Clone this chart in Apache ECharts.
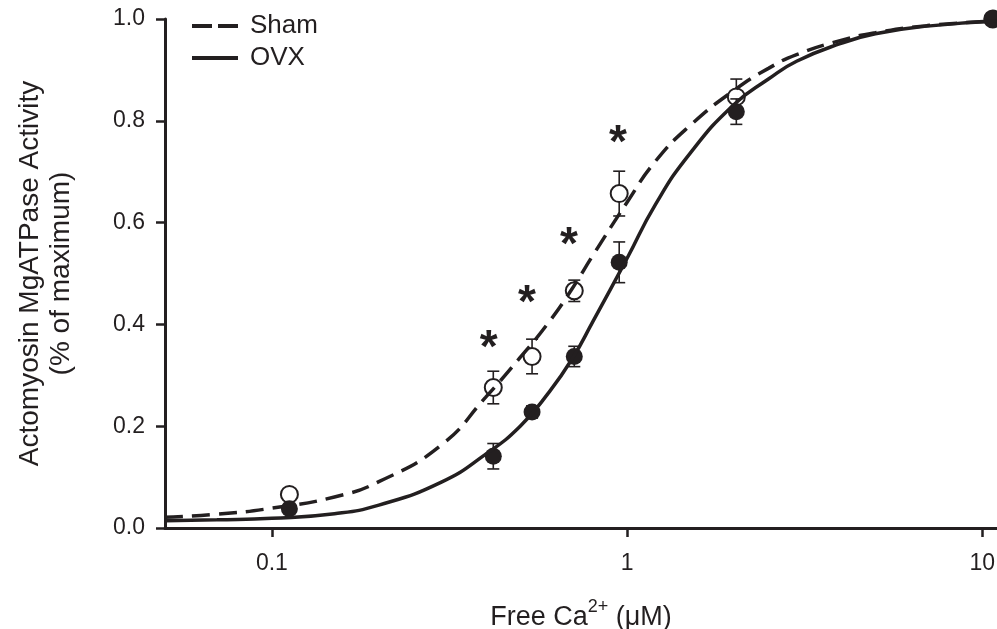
<!DOCTYPE html>
<html>
<head>
<meta charset="utf-8">
<script src="https://cdn.jsdelivr.net/npm/echarts@6/dist/echarts.min.js"></script>
<style>
  html, body { margin: 0; padding: 0; background: #fff; }
  #chart { width: 997px; height: 629px; }
</style>
</head>
<body>
<div id="chart"></div>
<script>
// measured points (free Ca2+, µM)
const concX = [0.112, 0.42, 0.54, 0.71, 0.95, 2.03, 10.7]
const shamY = [0.066, 0.276, 0.337, 0.466, 0.657, 0.847, 1.0]
const shamSe = [0, 0.032, 0.034, 0.021, 0.044, 0.035, 0]
const ovxY = [0.038, 0.141, 0.228, 0.337, 0.522, 0.818, 1.0]
const ovxSe = [0, 0.025, 0.012, 0.02, 0.04, 0.025, 0]

// fitted curves
const curveX = [0.05, 0.07, 0.1, 0.15, 0.2, 0.3, 0.4, 0.5, 0.6, 0.7, 0.8, 1.0, 1.2, 1.5, 2.0, 2.5, 3.0, 4.0, 5.0, 7.0, 11]
const shamCurve = [0.021, 0.027, 0.039, 0.061, 0.091, 0.163, 0.257, 0.335, 0.403, 0.47, 0.535, 0.64, 0.72, 0.79, 0.86, 0.903, 0.93, 0.958, 0.973, 0.987, 0.996]
const ovxCurve = [0.014, 0.016, 0.019, 0.028, 0.045, 0.09, 0.145, 0.20, 0.265, 0.332, 0.405, 0.53, 0.635, 0.735, 0.832, 0.882, 0.917, 0.952, 0.971, 0.986, 0.996]

// significance marks
const starX = [0.408, 0.522, 0.686, 0.943]
const starY = [0.373, 0.461, 0.575, 0.776]

const xTicks = [0.1, 1, 10]

const ink = '#231f20'
const font = '"Liberation Sans", Arial, Helvetica, sans-serif'

const chart = echarts.init(document.getElementById('chart'))

function errRender(params, api) {
  const x = api.value(0)
  const y = api.value(1)
  const e = api.value(2)
  if (!e) return null
  const top = api.coord([x, y + e])
  const bot = api.coord([x, y - e])
  const hw = 6
  const style = { stroke: ink, lineWidth: 1.6 }
  return {
    type: 'group',
    children: [
      { type: 'line', shape: { x1: top[0], y1: top[1], x2: bot[0], y2: bot[1] }, style },
      { type: 'line', shape: { x1: top[0] - hw, y1: top[1], x2: top[0] + hw, y2: top[1] }, style },
      { type: 'line', shape: { x1: bot[0] - hw, y1: bot[1], x2: bot[0] + hw, y2: bot[1] }, style },
    ],
  }
}

chart.setOption({
  animation: false,
  textStyle: { fontFamily: font, color: ink },
  grid: { left: 165, right: 0, top: 19, bottom: 101, containLabel: false, outerBoundsMode: 'none' },
  legend: {
    data: [
      { name: 'Sham', icon: 'path://M0,0H20V4H0Z M26,0H46V4H26Z' },
      { name: 'OVX', icon: 'path://M0,0H46V4H0Z' },
    ],
    orient: 'vertical',
    left: 192,
    top: 13,
    padding: 0,
    itemWidth: 46,
    itemHeight: 4,
    itemGap: 6,
    itemStyle: { color: ink },
    textStyle: { fontSize: 26, color: ink, fontFamily: font, lineHeight: 26, padding: [0, 0, 0, 7] },
  },
  xAxis: {
    type: 'log',
    logBase: 10,
    min: 0.05,
    max: 11,
    name: 'Free Ca{sup|2+} (μM)',
    nameLocation: 'middle',
    nameGap: 70,
    nameTextStyle: {
      fontSize: 27,
      color: ink,
      fontFamily: font,
      rich: { sup: { fontSize: 18, padding: [0, 0, 22, 0], color: ink, fontFamily: font } },
    },
    axisLine: { lineStyle: { color: ink, width: 3 } },
    axisTick: { customValues: xTicks, length: 9, lineStyle: { color: ink, width: 2.5 } },
    axisLabel: {
      customValues: xTicks,
      margin: 24,
      fontSize: 23,
      color: ink,
      formatter: (v) => String(v),
    },
    splitLine: { show: false },
    minorTick: { show: false },
  },
  yAxis: {
    type: 'value',
    min: 0,
    max: 1,
    interval: 0.2,
    name: 'Actomyosin MgATPase Activity\n(% of maximum)',
    nameLocation: 'middle',
    nameGap: 88,
    nameTextStyle: { fontSize: 28, color: ink, fontFamily: font, lineHeight: 31 },
    axisLine: { show: true, lineStyle: { color: ink, width: 3 } },
    axisTick: { show: true, length: 9, lineStyle: { color: ink, width: 2.5 } },
    axisLabel: { margin: 20, fontSize: 23, color: ink, formatter: (v) => v.toFixed(1) },
    splitLine: { show: false },
  },
  series: [
    {
      name: 'shamErr',
      type: 'custom',
      renderItem: errRender,
      encode: { x: 0, y: 1 },
      data: concX.map((x, i) => [x, shamY[i], shamSe[i]]),
      z: 2,
    },
    {
      name: 'shamPts',
      type: 'scatter',
      symbol: 'circle',
      symbolSize: 17,
      itemStyle: { color: '#fff', borderColor: ink, borderWidth: 2, opacity: 1 },
      data: concX.map((x, i) => [x, shamY[i]]),
      z: 3,
    },
    {
      name: 'ovxErr',
      type: 'custom',
      renderItem: errRender,
      encode: { x: 0, y: 1 },
      data: concX.map((x, i) => [x, ovxY[i], ovxSe[i]]),
      z: 4,
    },
    {
      name: 'ovxPts',
      type: 'scatter',
      symbol: 'circle',
      symbolSize: 17,
      itemStyle: { color: ink, opacity: 1 },
      data: concX.map((x, i) => [x, ovxY[i]]),
      z: 5,
    },
    {
      name: 'Sham',
      type: 'line',
      smooth: true,
      symbol: 'none',
      showSymbol: false,
      lineStyle: { color: ink, width: 3.5, type: [18, 9] },
      itemStyle: { color: ink },
      data: curveX.map((x, i) => [x, shamCurve[i]]),
      z: 6,
    },
    {
      name: 'OVX',
      type: 'line',
      smooth: true,
      symbol: 'none',
      showSymbol: false,
      lineStyle: { color: ink, width: 3.5 },
      itemStyle: { color: ink },
      data: curveX.map((x, i) => [x, ovxCurve[i]]),
      z: 6,
    },
    {
      name: 'stars',
      type: 'scatter',
      symbol: 'circle',
      symbolSize: 0,
      itemStyle: { color: ink, opacity: 1 },
      label: {
        show: true,
        position: 'inside',
        formatter: '*',
        fontSize: 46,
        fontWeight: 'bold',
        color: ink,
        opacity: 1,
        textBorderWidth: 0,
        fontFamily: font,
        offset: [0, 11],
      },
      data: starX.map((x, i) => [x, starY[i]]),
      z: 7,
    },
  ],
})
</script>
</body>
</html>
